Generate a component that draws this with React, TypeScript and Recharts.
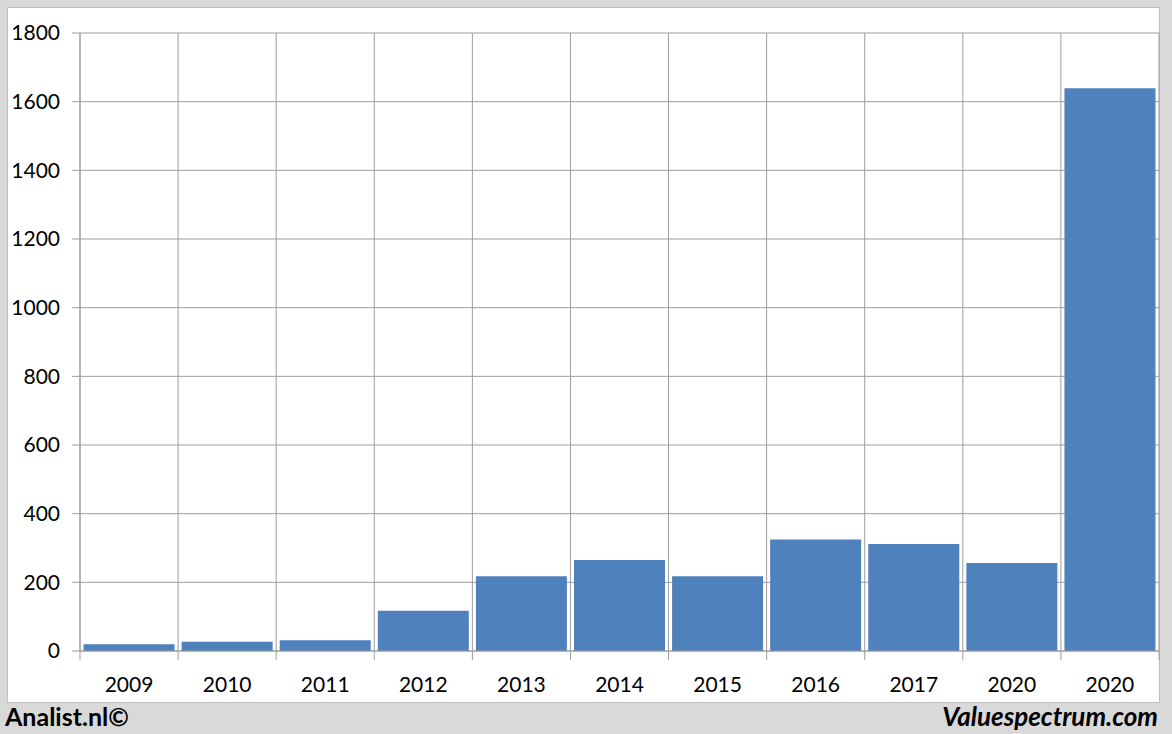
import { BarChart, Bar, XAxis, YAxis, CartesianGrid } from 'recharts';

const years = ['2009', '2010', '2011', '2012', '2013', '2014', '2015', '2016', '2017', '2020', '2020'];
const values = [20, 27, 31, 117, 218, 265, 218, 325, 312, 256, 1639];
const yTicks = [0, 200, 400, 600, 800, 1000, 1200, 1400, 1600, 1800];

const chartData = years.map((year, i) => ({ key: `${year}-${i}`, year, value: values[i] }));

const W = 1172;
const H = 734;
const PLOT_LEFT = 80;
const PLOT_RIGHT = 13;
const BAND = (W - PLOT_LEFT - PLOT_RIGHT) / years.length;
const GRID = '#9d9d9d';
const FONT = 'Lato, "Open Sans", sans-serif';

function YearTick({ x, y, index }: { x: number; y: number; index: number }) {
  const last = index === years.length - 1;
  return (
    <g>
      <line x1={x - BAND / 2} x2={x - BAND / 2} y1={y - 9} y2={y} stroke={GRID} />
      {last && <line x1={x + BAND / 2} x2={x + BAND / 2} y1={y - 9} y2={y} stroke={GRID} />}
      <text x={x} y={y + 32} textAnchor="middle" fontSize={21} fill="#000" fontFamily={FONT}>
        {years[index]}
      </text>
    </g>
  );
}

export default function App() {
  return (
    <div style={{ position: 'absolute', left: 0, top: 0, width: W, height: H, background: '#d9d9d9', fontFamily: FONT }}>
      <div
        style={{
          position: 'absolute',
          left: 7,
          top: 7,
          width: 1153,
          height: 696,
          background: '#fff',
          border: '1px solid #bfbfbf',
          boxSizing: 'border-box',
        }}
      />
      <div style={{ position: 'absolute', left: 0, top: 0 }}>
        <BarChart
          width={W}
          height={H}
          data={chartData}
          margin={{ top: 33, right: PLOT_RIGHT, left: 0, bottom: 43 }}
          barCategoryGap="3.6%"
        >
          <CartesianGrid
            stroke={GRID}
            verticalCoordinatesGenerator={({ offset }: any) =>
              years.map((_, i) => offset.left + (i * offset.width) / years.length).concat(offset.left + offset.width)
            }
          />
          <XAxis
            dataKey="key"
            height={40}
            axisLine={{ stroke: GRID }}
            tickLine={false}
            tickSize={9}
            tickMargin={0}
            interval={0}
            tick={(p: any) => <YearTick {...p} />}
          />
          <YAxis
            width={PLOT_LEFT}
            domain={[0, 1800]}
            ticks={yTicks}
            interval={0}
            axisLine={{ stroke: GRID }}
            tickLine={{ stroke: GRID }}
            tickSize={8}
            tickMargin={12}
            tick={{ fontSize: 21, fill: '#000', fontFamily: FONT }}
          />
          <Bar dataKey="value" fill="#4f81bd" isAnimationActive={false} />
        </BarChart>
      </div>
      <div style={{ position: 'absolute', left: 5, top: 701, fontSize: 25, fontWeight: 700, color: '#000' }}>
        Analist.nl©
      </div>
      <div
        style={{
          position: 'absolute',
          right: 14,
          top: 700,
          fontSize: 26,
          fontWeight: 700,
          fontStyle: 'italic',
          color: '#000',
        }}
      >
        Valuespectrum.com
      </div>
    </div>
  );
}
